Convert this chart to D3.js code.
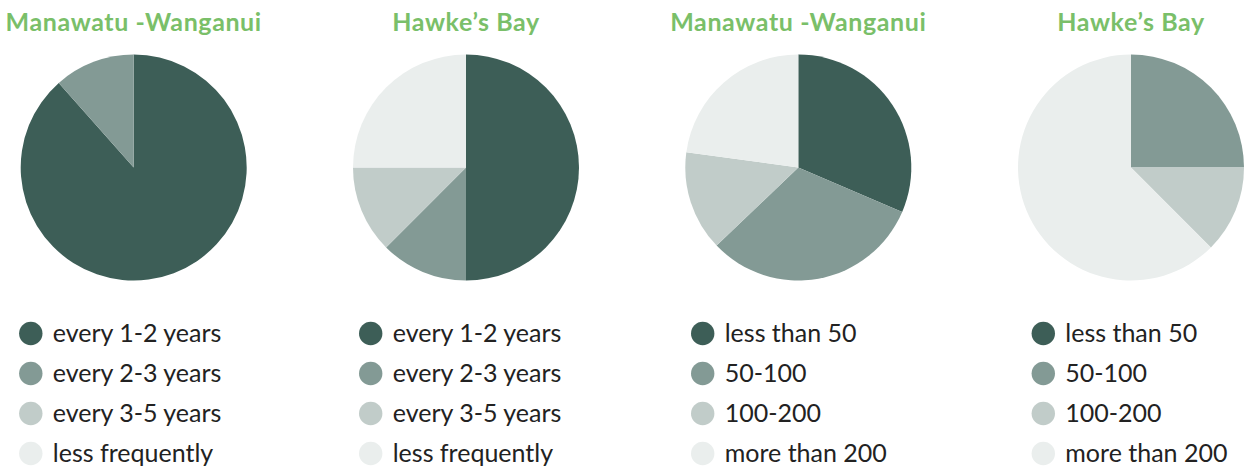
<!DOCTYPE html>
<html>
<head>
<meta charset="utf-8">
<script src="https://d3js.org/d3.v7.min.js"></script>
<style>
  body { margin: 0; background: #fff; }
  svg { display: block; }
</style>
</head>
<body>
<svg width="1244" height="468"></svg>
<script>
// chart data
var titles = ["Manawatu -Wanganui", "Hawke\u2019s Bay", "Manawatu -Wanganui", "Hawke\u2019s Bay"];
var frequencyLabels = ["every 1-2 years", "every 2-3 years", "every 3-5 years", "less frequently"];
var sizeLabels = ["less than 50", "50-100", "100-200", "more than 200"];
var legendLabels = [frequencyLabels, frequencyLabels, sizeLabels, sizeLabels];
var manawatuFreq = [23, 3, 0, 0];
var hawkesFreq = [4, 1, 1, 2];
var manawatuSize = [11, 11, 5, 8];
var hawkesSize = [0, 2, 1, 5];
var seriesValues = [manawatuFreq, hawkesFreq, manawatuSize, hawkesSize];

var colors = ["#3d5e57", "#839a95", "#c1ccc9", "#eaeeed"];

// layout
var pieX = [133.7, 466, 798.3, 1131];
var legendX = [30.8, 370.7, 702.7, 1043.3];
var pieY = 167.5, radius = 113;

var svg = d3.select("svg");

var pie = d3.pie().sort(null).value(d => d);
var arc = d3.arc().innerRadius(0).outerRadius(radius);

var legendY = d3.scalePoint().domain([0, 1, 2, 3]).range([333.5, 453.5]);

seriesValues.forEach(function(values, i) {
  svg.append("text")
    .attr("x", pieX[i])
    .attr("y", 30.5)
    .attr("text-anchor", "middle")
    .attr("font-family", "Lato, sans-serif")
    .attr("font-weight", "bold")
    .attr("font-size", "25px")
    .attr("letter-spacing", "0.6px")
    .attr("fill", "#7abf69")
    .text(titles[i]);

  svg.append("g")
    .attr("transform", "translate(" + pieX[i] + "," + pieY + ")")
    .selectAll("path")
    .data(pie(values))
    .join("path")
      .attr("d", arc)
      .attr("fill", (d, j) => colors[j]);

  var leg = svg.append("g")
    .selectAll("g")
    .data(legendLabels[i])
    .join("g")
      .attr("transform", (d, j) => "translate(" + legendX[i] + "," + legendY(j) + ")");

  leg.append("circle")
    .attr("r", 11.7)
    .attr("fill", (d, j) => colors[j]);

  leg.append("text")
    .attr("x", 22)
    .attr("y", 8.5)
    .attr("font-family", "Lato, sans-serif")
    .attr("font-size", "25px")
    .attr("fill", "#222")
    .text(d => d);
});
</script>
</body>
</html>
